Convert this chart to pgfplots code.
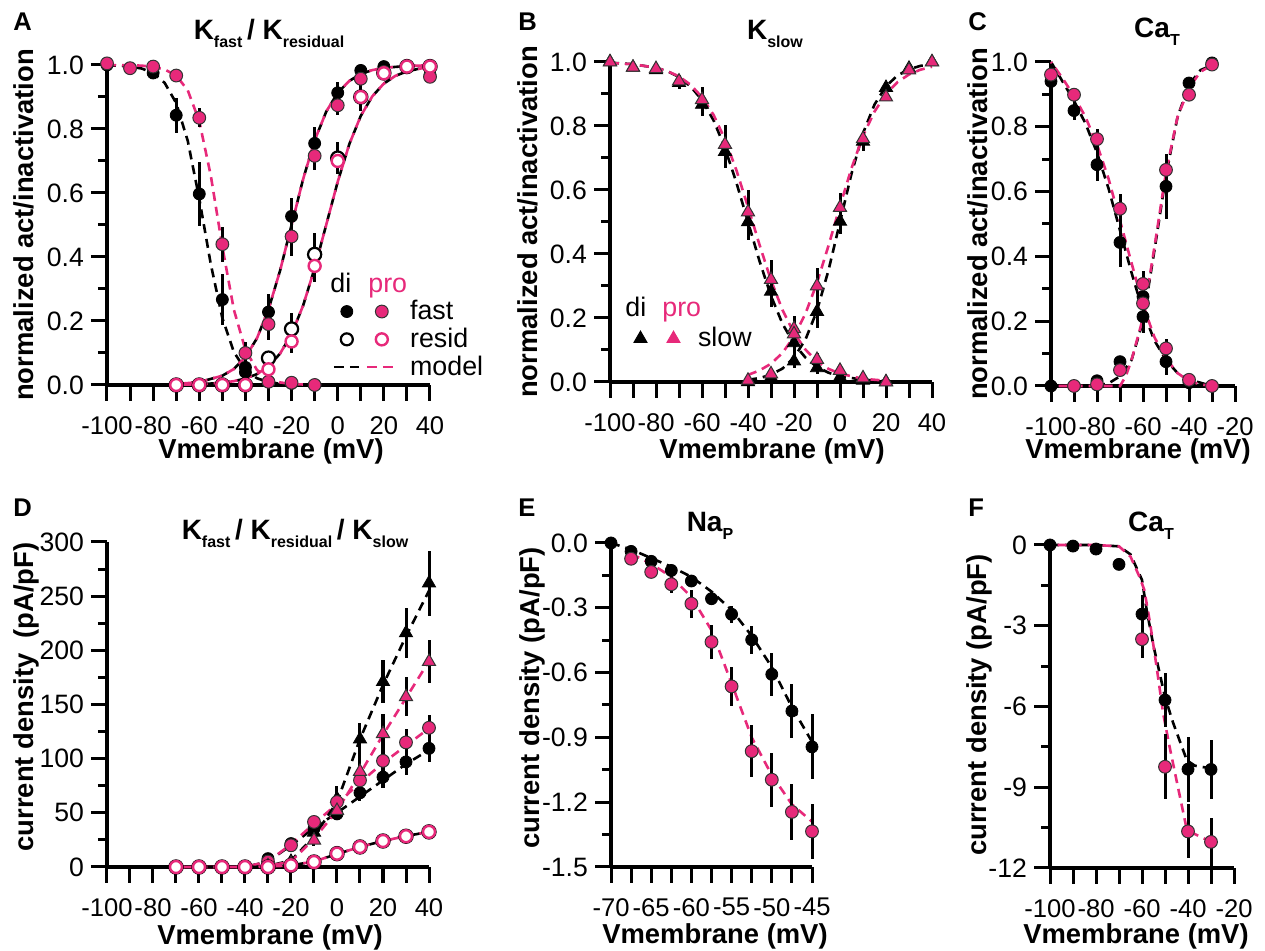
\documentclass[border=0pt]{standalone}
\usepackage{fontspec}
\setmainfont{Liberation Sans}
\usepackage{pgfplots}
\pgfplotsset{compat=1.18}
\definecolor{pk}{RGB}{231,41,122}
\newcommand{\sub}[1]{\raisebox{-4pt}{\fontsize{8}{9}\selectfont #1}}
\newcommand{\ttl}{\bfseries\fontsize{14}{16}\selectfont}
\newcommand{\lbl}{\bfseries\fontsize{13.7}{16}\selectfont}
\newcommand{\plet}{\bfseries\fontsize{12.8}{15}\selectfont}
\newcommand{\leg}{\fontsize{13.4}{15}\selectfont}
\pgfplotsset{
  panel/.style={
    scale only axis, anchor=south west, clip=false,
    axis x line*=bottom, axis y line*=left,
    axis line style={line width=1.6pt, black},
    tick align=outside,
    major tick length=8pt, minor tick length=4.5pt,
    tick style={line width=1.5pt, black},
    yticklabel style={font=\fontsize{13.3}{15}\selectfont},
    xticklabel style={font=\fontsize{12.8}{15}\selectfont, inner sep=0.8pt, yshift=-6.6pt},
    enlargelimits=false,
    legend cell align=left,
  },
  eb/.style={error bars/y dir=both, error bars/y explicit, error bars/error mark=none,
     error bars/error bar style={line width=1.5pt, black, solid}},
  dB/.style={only marks, mark=*, mark size=3pt, mark options={fill=black, draw=black, line width=0.4pt, solid}, eb},
  dP/.style={only marks, mark=*, mark size=3.2pt, mark options={fill=pk, draw=black!80, line width=0.5pt, solid}, eb},
  oB/.style={only marks, mark=*, mark size=3.3pt, mark options={fill=white, draw=black, line width=1.1pt, solid}, eb},
  oP/.style={only marks, mark=*, mark size=3pt, mark options={fill=white, draw=pk, line width=1.2pt, solid}, eb},
  tB/.style={only marks, mark=triangle*, mark size=3.8pt, mark options={fill=black, draw=black, line width=0.4pt, solid}, eb},
  tP/.style={only marks, mark=triangle*, mark size=3.8pt, mark options={fill=pk, draw=black!80, line width=0.5pt, solid}, eb},
  md/.style={line width=1.3pt, dash pattern=on 4.5pt off 3pt, no marks},
  mB/.style={black, md},
  mP/.style={pk, md},
  mPo/.style={pk, md, dash phase=3.75pt},
}
\begin{document}
\begin{tikzpicture}
\useasboundingbox (0pt,0pt) rectangle (632.5pt,475.5pt);

% ================= A =================
\begin{axis}[panel, at={(53.5pt,283pt)}, width=161.5pt, height=160pt,
  xmin=-100, xmax=40, ymin=0, ymax=1,
  xtick={-100,-90,-80,-70,-60,-50,-40,-30,-20,-10,0,10,20,30,40},
  xticklabels={-100,,-80,,-60,,-40,,-20,,0,,20,,40},
  ytick={0,0.2,0.4,0.6,0.8,1}, yticklabels={0.0,0.2,0.4,0.6,0.8,1.0},
  minor ytick={0.1,0.3,0.5,0.7,0.9},
  legend style={at={(0.697,0.272)}, anchor=north west, draw=none, fill=none, inner sep=0pt,
    column sep=6.5pt, row sep=0.7pt, font=\leg, nodes={inner sep=1pt}},
]
\addlegendimage{legend image code/.code={
  \draw plot[only marks, mark=*, mark size=3pt, mark options={fill=black,draw=black}] coordinates {(0pt,0pt)};
  \draw plot[only marks, mark=*, mark size=3.2pt, mark options={fill=pk,draw=black!80,line width=0.5pt}] coordinates {(17.5pt,0pt)};}}
\addlegendentry{fast}
\addlegendimage{legend image code/.code={
  \draw plot[only marks, mark=*, mark size=3pt, mark options={fill=white,draw=black,line width=1.1pt}] coordinates {(0pt,0pt)};
  \draw plot[only marks, mark=*, mark size=3pt, mark options={fill=white,draw=pk,line width=1.2pt}] coordinates {(17.5pt,0pt)};}}
\addlegendentry{resid}
\addlegendimage{legend image code/.code={
  \draw[black, line width=1.3pt, dash pattern=on 5pt off 3pt] (-6.5pt,0pt) -- (6pt,0pt);
  \draw[pk, line width=1.3pt, dash pattern=on 5pt off 3pt] (10pt,0pt) -- (23.5pt,0pt);}}
\addlegendentry{model}
% models
\addplot[mB] coordinates {(-100,0.999)(-95,0.998)(-90,0.995)(-85,0.989)(-80,0.975)(-75,0.944)(-70,0.881)(-65,0.763)(-60,0.582)(-55,0.377)(-50,0.209)(-45,0.103)(-40,0.047)(-35,0.021)(-30,0.009)(-25,0.004)(-20,0.002)(-10,0.0)};
\addplot[mP] coordinates {(-100,1.0)(-90,0.999)(-85,0.998)(-80,0.994)(-75,0.986)(-70,0.967)(-65,0.921)(-60,0.824)(-55,0.654)(-50,0.432)(-45,0.235)(-40,0.110)(-35,0.047)(-30,0.020)(-25,0.008)(-20,0.003)(-10,0.0)};
\addplot[mB] coordinates {(-70,0.003)(-60,0.009)(-50,0.029)(-45,0.050)(-40,0.087)(-35,0.146)(-30,0.236)(-25,0.357)(-20,0.5)(-15,0.643)(-10,0.764)(-5,0.854)(0,0.913)(5,0.950)(10,0.972)(15,0.984)(20,0.991)(30,0.997)(40,0.999)};
\addplot[mPo] coordinates {(-70,0.003)(-60,0.009)(-50,0.029)(-45,0.050)(-40,0.087)(-35,0.146)(-30,0.236)(-25,0.357)(-20,0.5)(-15,0.643)(-10,0.764)(-5,0.854)(0,0.913)(5,0.950)(10,0.972)(15,0.984)(20,0.991)(30,0.997)(40,0.999)};
\addplot[mB] coordinates {(-70,0.001)(-60,0.002)(-50,0.007)(-45,0.012)(-40,0.020)(-35,0.034)(-30,0.058)(-25,0.098)(-20,0.159)(-15,0.248)(-10,0.365)(-5,0.5)(0,0.635)(5,0.752)(10,0.841)(15,0.902)(20,0.942)(25,0.966)(30,0.980)(35,0.988)(40,0.993)};
\addplot[mPo] coordinates {(-70,0.001)(-60,0.002)(-50,0.007)(-45,0.012)(-40,0.020)(-35,0.034)(-30,0.058)(-25,0.098)(-20,0.159)(-15,0.248)(-10,0.365)(-5,0.5)(0,0.635)(5,0.752)(10,0.841)(15,0.902)(20,0.942)(25,0.966)(30,0.980)(35,0.988)(40,0.993)};
% data di
\addplot[dB] coordinates {(-100,1.0)+-(0,0)(-90,0.99)+-(0,0)(-80,0.975)+-(0,0.01)(-70,0.843)+-(0,0.055)(-60,0.597)+-(0,0.10)(-50,0.267)+-(0,0.08)(-40,0.055)+-(0,0.03)(-30,0.01)+-(0,0)(-20,0.005)+-(0,0)(-10,0.0)+-(0,0)};
\addplot[dB] coordinates {(-40,0.04)+-(0,0.02)(-30,0.228)+-(0,0.055)(-20,0.527)+-(0,0.058)(-10,0.755)+-(0,0.05)(0,0.913)+-(0,0.035)(10,0.983)+-(0,0.015)(20,0.995)+-(0,0)(30,0.997)+-(0,0)(40,0.968)+-(0,0.01)};
\addplot[oB] coordinates {(-70,0)+-(0,0)(-60,0)+-(0,0)(-50,0)+-(0,0)(-40,0)+-(0,0)(-30,0.084)+-(0,0.015)(-20,0.175)+-(0,0.05)(-10,0.408)+-(0,0.068)(0,0.709)+-(0,0.05)(10,0.90)+-(0,0)(20,0.975)+-(0,0)(30,0.995)+-(0,0)(40,0.995)+-(0,0)};
% data pro
\addplot[dP] coordinates {(-100,1.005)+-(0,0)(-90,0.99)+-(0,0)(-80,0.995)+-(0,0)(-70,0.967)+-(0,0)(-60,0.835)+-(0,0.03)(-50,0.44)+-(0,0.055)(-40,0.10)+-(0,0.035)(-30,0.01)+-(0,0)(-20,0.007)+-(0,0)(-10,0.0)+-(0,0)};
\addplot[dP] coordinates {(-30,0.19)+-(0,0.05)(-20,0.464)+-(0,0.06)(-10,0.716)+-(0,0.045)(0,0.874)+-(0,0.03)(10,0.957)+-(0,0.02)(20,0.978)+-(0,0)(40,0.963)+-(0,0)};
\addplot[oP] coordinates {(-70,0)+-(0,0)(-60,0)+-(0,0)(-50,0)+-(0,0)(-40,0)+-(0,0)(-30,0.049)+-(0,0.02)(-20,0.136)+-(0,0.035)(-10,0.372)+-(0,0.05)(0,0.70)+-(0,0.03)(10,0.90)+-(0,0.045)(20,0.974)+-(0,0)(30,0.995)+-(0,0)(40,0.995)+-(0,0)};
\end{axis}

% ================= B =================
\begin{axis}[panel, at={(305pt,284.5pt)}, width=161pt, height=160pt,
  xmin=-100, xmax=40, ymin=0, ymax=1,
  xtick={-100,-90,-80,-70,-60,-50,-40,-30,-20,-10,0,10,20,30,40},
  xticklabels={-100,,-80,,-60,,-40,,-20,,0,,20,,40},
  ytick={0,0.2,0.4,0.6,0.8,1}, yticklabels={0.0,0.2,0.4,0.6,0.8,1.0},
  minor ytick={0.1,0.3,0.5,0.7,0.9},
  legend style={at={(0.073,0.178)}, anchor=north west, draw=none, fill=none, inner sep=0pt,
    column sep=8pt, font=\leg, nodes={inner sep=1pt}},
]
\addlegendimage{legend image code/.code={
  \draw plot[only marks, mark=triangle*, mark size=3.8pt, mark options={fill=black,draw=black}] coordinates {(0pt,0pt)};
  \draw plot[only marks, mark=triangle*, mark size=3.8pt, mark options={fill=pk,draw=pk}] coordinates {(16.5pt,0pt)};}}
\addlegendentry{slow}
\addplot[mB] coordinates {(-100,0.998)(-90,0.993)(-80,0.982)(-75,0.971)(-70,0.953)(-65,0.924)(-60,0.881)(-55,0.818)(-50,0.731)(-45,0.622)(-40,0.5)(-35,0.378)(-30,0.269)(-25,0.182)(-20,0.119)(-15,0.076)(-10,0.047)(-5,0.029)(0,0.018)(10,0.007)(20,0.003)};
\addplot[mP] coordinates {(-100,0.997)(-90,0.993)(-80,0.982)(-75,0.971)(-70,0.955)(-65,0.929)(-60,0.89)(-55,0.835)(-50,0.758)(-45,0.661)(-40,0.547)(-35,0.429)(-30,0.318)(-25,0.225)(-20,0.153)(-15,0.101)(-10,0.065)(-5,0.041)(0,0.026)(10,0.010)(20,0.004)};
\addplot[mB] coordinates {(-40,0.007)(-35,0.012)(-30,0.023)(-25,0.042)(-20,0.076)(-15,0.133)(-10,0.223)(-5,0.349)(0,0.5)(5,0.651)(10,0.777)(15,0.867)(20,0.924)(25,0.958)(30,0.977)(35,0.988)(40,0.993)};
\addplot[mP] coordinates {(-40,0.022)(-35,0.036)(-30,0.057)(-25,0.091)(-20,0.142)(-15,0.214)(-10,0.31)(-5,0.426)(0,0.55)(5,0.668)(10,0.769)(15,0.845)(20,0.90)(25,0.937)(30,0.961)(35,0.976)(40,0.985)};
\addplot[tB] coordinates {(-100,1.0)+-(0,0)(-90,0.983)+-(0,0)(-80,0.975)+-(0,0.01)(-70,0.935)+-(0,0.02)(-60,0.867)+-(0,0.035)(-50,0.72)+-(0,0.05)(-40,0.50)+-(0,0.055)(-30,0.283)+-(0,0.05)(-20,0.122)+-(0,0.045)(-10,0.044)+-(0,0.02)(0,0.015)+-(0,0)(10,0.005)+-(0,0)(20,0.0)+-(0,0)};
\addplot[tB] coordinates {(-40,0.0)+-(0,0)(-30,0.015)+-(0,0)(-20,0.065)+-(0,0.02)(-10,0.22)+-(0,0.05)(0,0.502)+-(0,0.04)(10,0.752)+-(0,0.03)(20,0.92)+-(0,0)(30,0.98)+-(0,0)(40,1.0)+-(0,0)};
\addplot[tP] coordinates {(-100,1.0)+-(0,0)(-90,0.983)+-(0,0)(-80,0.979)+-(0,0)(-70,0.94)+-(0,0.02)(-60,0.882)+-(0,0.04)(-50,0.742)+-(0,0.06)(-40,0.531)+-(0,0.07)(-30,0.32)+-(0,0.06)(-20,0.166)+-(0,0.04)(-10,0.07)+-(0,0.02)(0,0.036)+-(0,0)(10,0.0125)+-(0,0)(20,0.0)+-(0,0)};
\addplot[tP] coordinates {(-40,0.005)+-(0,0)(-30,0.025)+-(0,0)(-20,0.15)+-(0,0)(-10,0.30)+-(0,0.055)(0,0.545)+-(0,0.045)(10,0.76)+-(0,0)(20,0.89)+-(0,0)(30,0.975)+-(0,0)(40,1.0)+-(0,0)};
\end{axis}

% ================= C =================
\begin{axis}[panel, at={(525.5pt,282.5pt)}, width=92pt, height=162pt,
  xmin=-100, xmax=-20, ymin=0, ymax=1,
  xtick={-100,-90,-80,-70,-60,-50,-40,-30,-20},
  xticklabels={-100,,-80,,-60,,-40,,-20},
  ytick={0,0.2,0.4,0.6,0.8,1}, yticklabels={0.0,0.2,0.4,0.6,0.8,1.0},
  minor ytick={0.1,0.3,0.5,0.7,0.9},
]
\addplot[mB] coordinates {(-100,1.0)(-95,0.94)(-90,0.88)(-85,0.81)(-80,0.72)(-75,0.61)(-70,0.48)(-65,0.35)(-60,0.23)(-55,0.14)(-50,0.08)(-45,0.04)(-40,0.02)(-35,0.01)(-30,0.0)};
\addplot[mPo] coordinates {(-100,1.0)(-95,0.95)(-90,0.895)(-85,0.83)(-80,0.745)(-75,0.64)(-70,0.51)(-65,0.38)(-60,0.25)(-55,0.15)(-50,0.085)(-45,0.04)(-40,0.015)(-35,0.005)(-30,0.0)};
\addplot[mB] coordinates {(-100,0)(-90,0)(-80,0.002)(-75,0.008)(-70,0.03)(-65,0.08)(-60,0.2)(-55,0.42)(-50,0.65)(-45,0.83)(-40,0.93)(-35,0.975)(-30,0.99)};
\addplot[mPo] coordinates {(-100,0)(-90,0)(-80,0)(-70,0.0)(-67.5,0.03)(-65,0.08)(-60,0.21)(-55,0.43)(-50,0.66)(-45,0.83)(-40,0.92)(-35,0.97)(-30,0.99)};
\addplot[dB] coordinates {(-100,0.94)+-(0,0.02)(-90,0.85)+-(0,0.03)(-80,0.683)+-(0,0.05)(-70,0.443)+-(0,0.075)(-60,0.214)+-(0,0.05)(-50,0.075)+-(0,0.04)(-40,0.01)+-(0,0)(-30,0.0)+-(0,0)};
\addplot[dB] coordinates {(-100,0)+-(0,0)(-90,0)+-(0,0)(-80,0.016)+-(0,0)(-70,0.075)+-(0,0)(-60,0.276)+-(0,0.05)(-50,0.616)+-(0,0.1)(-40,0.935)+-(0,0.015)(-30,0.997)+-(0,0)};
\addplot[dP] coordinates {(-100,0.961)+-(0,0)(-90,0.899)+-(0,0.02)(-80,0.762)+-(0,0.03)(-70,0.547)+-(0,0.045)(-60,0.315)+-(0,0.04)(-50,0.116)+-(0,0.03)(-40,0.019)+-(0,0)(-30,0.0)+-(0,0)};
\addplot[dP] coordinates {(-90,0.0)+-(0,0)(-80,0.005)+-(0,0)(-70,0.049)+-(0,0)(-60,0.255)+-(0,0)(-50,0.667)+-(0,0)(-40,0.899)+-(0,0)(-30,0.992)+-(0,0)};
\end{axis}

% ================= D =================
\begin{axis}[panel, at={(53.5pt,42pt)}, width=161pt, height=162.5pt,
  xmin=-100, xmax=40, ymin=0, ymax=300,
  xtick={-100,-90,-80,-70,-60,-50,-40,-30,-20,-10,0,10,20,30,40},
  xticklabels={-100,,-80,,-60,,-40,,-20,,0,,20,,40},
  ytick={0,50,100,150,200,250,300}, yticklabels={0,50,100,150,200,250,300},
  minor ytick={25,75,125,175,225,275},
]
\addplot[mB] coordinates {(-70,0)(-40,0)(-30,5)(-20,20)(-10,36)(0,50)(10,65)(20,80)(30,95)(40,108)};
\addplot[mP] coordinates {(-70,0)(-40,0)(-30,5)(-20,21)(-10,40)(0,58)(10,78)(20,96)(30,112)(40,128)};
\addplot[mB] coordinates {(-40,0)(-30,1)(-20,6)(-10,28)(0,60)(10,118)(20,168)(30,213)(40,255)};
\addplot[mP] coordinates {(-40,0)(-30,1)(-20,5)(-10,26)(0,52)(10,86)(20,122)(30,156)(40,190)};
\addplot[mB] coordinates {(-70,0)(-40,0)(-30,0.3)(-20,1.5)(-10,5)(0,12)(10,18.5)(20,24)(30,28.5)(40,32.5)};
\addplot[mPo] coordinates {(-70,0)(-40,0)(-30,0.3)(-20,1.5)(-10,5)(0,12)(10,18.5)(20,24)(30,28.5)(40,32.5)};
\addplot[dB] coordinates {(-70,0)+-(0,0)(-60,0)+-(0,0)(-50,0)+-(0,0)(-40,0)+-(0,0)(-30,7.7)+-(0,2)(-20,21.6)+-(0,3)(-10,35.5)+-(0,5)(0,49)+-(0,6)(10,68.5)+-(0,8)(20,83)+-(0,10)(30,97)+-(0,12)(40,109.5)+-(0,13)};
\addplot[tB] coordinates {(-30,1)+-(0,0)(-20,5)+-(0,0)(-10,32)+-(0,6)(0,63)+-(0,12)(10,118)+-(0,15)(20,171)+-(0,20)(30,216)+-(0,23)(40,262)+-(0,30)};
\addplot[dP] coordinates {(-30,5)+-(0,0)(-20,20)+-(0,3)(-10,41.6)+-(0,5)(0,60)+-(0,8)(10,80)+-(0,10)(20,98)+-(0,12)(30,115)+-(0,12)(40,128.5)+-(0,12)};
\addplot[tP] coordinates {(-30,1)+-(0,0)(-20,3)+-(0,0)(-10,24.7)+-(0,5)(0,52)+-(0,8)(10,88)+-(0,15)(20,123)+-(0,18)(30,157)+-(0,18)(40,189.5)+-(0,20)};
\addplot[oB] coordinates {(-70,0)+-(0,0)(-60,0)+-(0,0)(-50,0)+-(0,0)(-40,0)+-(0,0)(-30,0)+-(0,0)(-20,1.5)+-(0,0)(-10,4.6)+-(0,0)(0,12.3)+-(0,0)(10,18.5)+-(0,2)(20,24)+-(0,2)(30,28.4)+-(0,2)(40,32.4)+-(0,3)};
\addplot[oP] coordinates {(-70,0)+-(0,0)(-60,0)+-(0,0)(-50,0)+-(0,0)(-40,0)+-(0,0)(-30,0)+-(0,0)(-20,1.5)+-(0,0)(-10,4.6)+-(0,0)(0,12.3)+-(0,0)(10,18.5)+-(0,0)(20,24)+-(0,0)(30,28.4)+-(0,0)(40,32.4)+-(0,0)};
\end{axis}

% ================= E =================
\begin{axis}[panel, at={(305.5pt,42pt)}, width=100.5pt, height=162pt,
  xmin=-70, xmax=-45, ymin=-1.5, ymax=0,
  xtick={-70,-67.5,-65,-62.5,-60,-57.5,-55,-52.5,-50,-47.5,-45},
  xticklabels={-70,,-65,,-60,,-55,,-50,,-45},
  ytick={-1.5,-1.2,-0.9,-0.6,-0.3,0}, yticklabels={-1.5,-1.2,-0.9,-0.6,-0.3,0.0},
  minor ytick={-1.35,-1.05,-0.75,-0.45,-0.15},
]
\addplot[mB] coordinates {(-70,0.0)(-67.5,-0.03)(-65,-0.07)(-62.5,-0.11)(-60,-0.157)(-57.5,-0.225)(-55,-0.31)(-52.5,-0.43)(-50,-0.575)(-47.5,-0.76)(-45,-0.92)};
\addplot[mP] coordinates {(-67.5,-0.05)(-65,-0.096)(-62.5,-0.157)(-60,-0.25)(-57.5,-0.404)(-55,-0.65)(-52.5,-0.90)(-50,-1.075)(-47.5,-1.21)(-45,-1.29)};
\addplot[dB] coordinates {(-70,0)+-(0,0)(-67.5,-0.039)+-(0,0)(-65,-0.085)+-(0,0.015)(-62.5,-0.127)+-(0,0.025)(-60,-0.176)+-(0,0.03)(-57.5,-0.258)+-(0,0.03)(-55,-0.33)+-(0,0.04)(-52.5,-0.448)+-(0,0.065)(-50,-0.608)+-(0,0.1)(-47.5,-0.778)+-(0,0.127)(-45,-0.944)+-(0,0.15)};
\addplot[dP] coordinates {(-67.5,-0.073)+-(0,0.01)(-65,-0.134)+-(0,0.015)(-62.5,-0.191)+-(0,0.04)(-60,-0.281)+-(0,0.065)(-57.5,-0.458)+-(0,0.077)(-55,-0.664)+-(0,0.09)(-52.5,-0.964)+-(0,0.12)(-50,-1.096)+-(0,0.125)(-47.5,-1.245)+-(0,0.13)(-45,-1.335)+-(0,0.127)};
\end{axis}

% ================= F =================
\begin{axis}[panel, at={(525pt,41.5pt)}, width=92pt, height=161.5pt,
  xmin=-100, xmax=-20, ymin=-12, ymax=0,
  xtick={-100,-90,-80,-70,-60,-50,-40,-30,-20},
  xticklabels={-100,,-80,,-60,,-40,,-20},
  ytick={-12,-9,-6,-3,0}, yticklabels={-12,-9,-6,-3,0},
  minor ytick={-10.5,-7.5,-4.5,-1.5},
]
\addplot[mB] coordinates {(-100,0)(-90,0)(-80,0)(-70,-0.05)(-65,-0.35)(-60,-1.3)(-58,-2.4)(-55,-3.75)(-50,-5.65)(-46.5,-6.6)(-40.5,-8.0)(-37,-8.2)(-30,-8.3)};
\addplot[mPo] coordinates {(-100,0)(-90,0)(-80,0)(-70,-0.05)(-65,-0.43)(-61,-1.2)(-59,-1.67)(-56.5,-2.9)(-53.7,-4.5)(-50.8,-6.26)(-48,-7.5)(-45,-8.74)(-40.7,-10.5)(-38,-10.7)(-30,-11.03)};
\addplot[dB] coordinates {(-100,0)+-(0,0)(-90,-0.04)+-(0,0)(-80,-0.15)+-(0,0)(-70,-0.72)+-(0,0)(-60,-2.57)+-(0,0.7)(-50,-5.76)+-(0,1.0)(-40,-8.33)+-(0,1.2)(-30,-8.34)+-(0,1.1)};
\addplot[dP] coordinates {(-60,-3.5)+-(0,0.7)(-50,-8.24)+-(0,1.2)(-40,-10.64)+-(0,1.0)(-30,-11.03)+-(0,0.9)};
\end{axis}

% ================= text =================
\node[anchor=base west, inner sep=0pt] at (6.5pt,460pt) {\plet A};
\node[anchor=base west, inner sep=0pt] at (259pt,460pt) {\plet B};
\node[anchor=base west, inner sep=0pt] at (484pt,460pt) {\plet C};
\node[anchor=base west, inner sep=0pt] at (6.5pt,217pt) {\plet D};
\node[anchor=base west, inner sep=0pt] at (259pt,217pt) {\plet E};
\node[anchor=base west, inner sep=0pt] at (484pt,217pt) {\plet F};

\node[anchor=base, inner sep=0pt] at (134.5pt,455.5pt) {\ttl K\sub{fast}\,/ K\sub{residual}};
\node[anchor=base, inner sep=0pt] at (387.5pt,455.5pt) {\ttl K\sub{slow}};
\node[anchor=base, inner sep=0pt] at (578.5pt,456.5pt) {\ttl Ca\sub{T}};
\node[anchor=base, inner sep=0pt] at (147.5pt,205.5pt) {\ttl K\sub{fast}\,/ K\sub{residual}\,/ K\sub{slow}};
\node[anchor=base, inner sep=0pt] at (355pt,209.5pt) {\ttl Na\sub{P}};
\node[anchor=base, inner sep=0pt] at (575.5pt,209.5pt) {\ttl Ca\sub{T}};

\node[rotate=90, inner sep=0pt] at (12pt,363pt) {\lbl normalized act/inactivation};
\node[rotate=90, inner sep=0pt] at (264pt,364.5pt) {\lbl normalized act/inactivation};
\node[rotate=90, inner sep=0pt] at (489pt,363.5pt) {\lbl normalized act/inactivation};
\node[rotate=90, inner sep=0pt] at (13pt,127pt) {\lbl current density\ \ (pA/pF)};
\node[rotate=90, inner sep=0pt] at (266pt,126.5pt) {\lbl current density (pA/pF)};
\node[rotate=90, inner sep=0pt] at (489.5pt,123pt) {\lbl current density (pA/pF)};

\node[anchor=base, inner sep=0pt] at (135.5pt,246pt) {\lbl Vmembrane (mV)};
\node[anchor=base, inner sep=0pt] at (386pt,246pt) {\lbl Vmembrane (mV)};
\node[anchor=base, inner sep=0pt] at (569pt,246pt) {\lbl Vmembrane (mV)};
\node[anchor=base, inner sep=0pt] at (135pt,3pt) {\lbl Vmembrane (mV)};
\node[anchor=base, inner sep=0pt] at (357.5pt,3.5pt) {\lbl Vmembrane (mV)};
\node[anchor=base, inner sep=0pt] at (568pt,3.5pt) {\lbl Vmembrane (mV)};

\node[anchor=base west, inner sep=0pt] at (165pt,329pt) {\leg di};
\node[anchor=base west, inner sep=0pt] at (184pt,329pt) {\leg\color{pk}pro};
\node[anchor=base west, inner sep=0pt] at (312.5pt,317pt) {\leg di};
\node[anchor=base west, inner sep=0pt] at (331pt,317pt) {\leg\color{pk}pro};
\end{tikzpicture}
\end{document}
